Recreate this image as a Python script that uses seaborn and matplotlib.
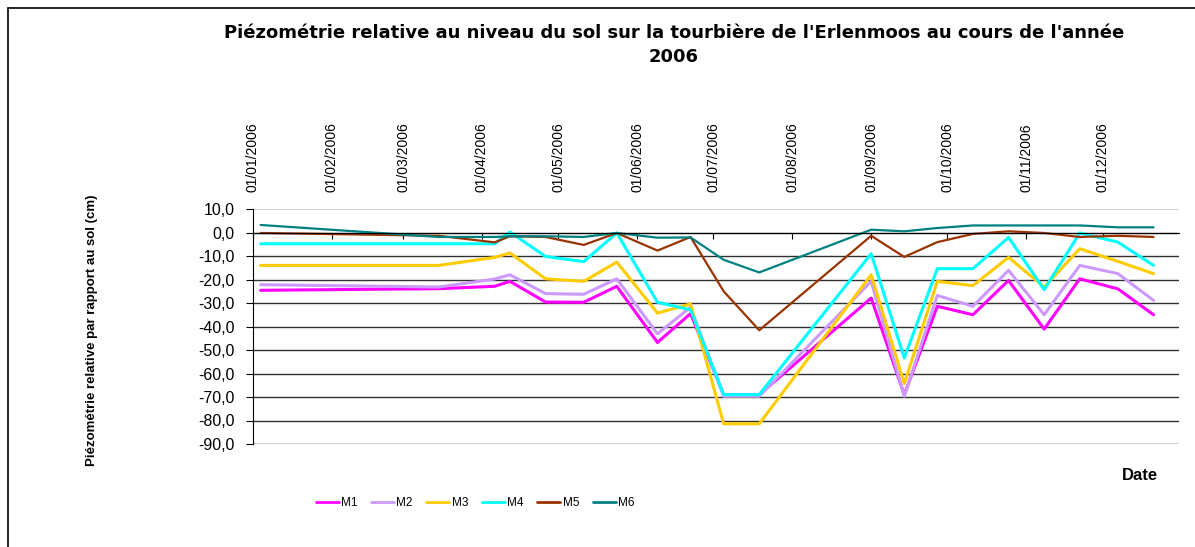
import pandas as pd
import matplotlib.pyplot as plt
import matplotlib.dates as mdates
from matplotlib.lines import Line2D
import seaborn as sns

# dates des relevés (2006)
dates = ['2006-01-04', '2006-03-15', '2006-04-06', '2006-04-12', '2006-04-26',
         '2006-05-11', '2006-05-24', '2006-06-09', '2006-06-22', '2006-07-05',
         '2006-07-19', '2006-09-01', '2006-09-14', '2006-09-27', '2006-10-11',
         '2006-10-25', '2006-11-08', '2006-11-22', '2006-12-07', '2006-12-21']

# niveaux relatifs au sol (cm) par piézomètre
m1 = [-24.6, -23.9, -22.9, -20.8, -29.6, -29.7, -22.9, -46.8, -34.5, -69.0,
      -69.0, -27.9, -69.0, -31.4, -35.0, -20.4, -41.1, -19.7, -24.0, -35.0]
m2 = [-22.2, -23.2, -19.8, -18.0, -26.0, -26.3, -19.7, -43.1, -31.8, -69.7,
      -69.7, -20.8, -69.7, -26.8, -31.4, -16.1, -35.0, -14.0, -17.5, -28.9]
m3 = [-14.0, -14.0, -10.6, -8.7, -19.7, -20.8, -12.6, -34.3, -30.4, -81.4,
      -81.4, -18.0, -64.3, -20.8, -22.6, -10.6, -23.2, -6.9, -12.3, -17.5]
m4 = [-4.8, -4.8, -4.8, 0.2, -10.2, -12.4, -0.2, -29.7, -32.9, -69.0,
      -69.0, -9.0, -53.4, -15.4, -15.4, -2.1, -24.3, -0.2, -4.1, -14.0]
m5 = [-0.2, -1.4, -4.2, -1.6, -1.9, -5.3, -0.2, -7.7, -1.9, -25.0,
      -41.6, -1.4, -10.4, -4.1, -0.6, 0.5, -0.2, -1.9, -1.4, -1.9]
m6 = [3.2, -1.9, -1.9, -1.6, -1.6, -1.9, -0.2, -2.2, -2.1, -11.6,
      -17.0, 1.2, 0.5, 1.9, 3.0, 3.0, 3.0, 3.0, 2.2, 2.2]

series = ['M1', 'M2', 'M3', 'M4', 'M5', 'M6']
couleurs = ['#FF00FF', '#CC99FF', '#FFCC00', '#00FFFF', '#993300', '#008080']
epaisseurs = [2.2, 2.2, 2.2, 2.2, 1.6, 1.6]

y_ticks = [10, 0, -10, -20, -30, -40, -50, -60, -70, -80, -90]

df = pd.DataFrame({'date': pd.to_datetime(dates),
                   'M1': m1, 'M2': m2, 'M3': m3, 'M4': m4, 'M5': m5, 'M6': m6})

sns.set_style('white')
plt.rcParams['font.family'] = ['Liberation Sans', 'DejaVu Sans']
plt.rcParams['text.color'] = 'black'
plt.rcParams['xtick.color'] = 'black'
plt.rcParams['ytick.color'] = 'black'

fig = plt.figure(figsize=(11.95, 5.47), dpi=100)
ax = fig.add_axes([253 / 1195, 103 / 547, 926 / 1195, 235 / 547])

# lignes de grille horizontales
for v in y_ticks:
    if v in (10, -90):
        ax.axhline(v, color='#c8c8c8', lw=1.2, zorder=0)
    else:
        ax.axhline(v, color='#303030', lw=1.0, zorder=0)

for s, c, w in zip(series, couleurs, epaisseurs):
    sns.lineplot(data=df, x='date', y=s, color=c, lw=w, label=s, ax=ax)

ax.set_xlim(pd.Timestamp('2006-01-01'), pd.Timestamp('2006-12-31'))
ax.set_ylim(-90, 10)
ax.set_yticks(y_ticks)
ax.set_yticklabels([f'{v:.1f}'.replace('.', ',') for v in y_ticks], fontsize=11.5)
ax.set_xlabel('')
ax.set_ylabel('')

# axe des dates sur la ligne zéro, étiquettes en haut
ax.spines['bottom'].set_position(('data', 0))
ax.spines['bottom'].set_color('black')
ax.spines['top'].set_visible(False)
ax.spines['right'].set_visible(False)
ax.spines['left'].set_color('black')
ax.xaxis.set_major_locator(mdates.MonthLocator())
ax.xaxis.set_major_formatter(mdates.DateFormatter('%d/%m/%Y'))
ax.tick_params(axis='x', bottom=True, top=False, labelbottom=False, labeltop=True,
               direction='out', length=4, color='black', labelsize=10, pad=8,
               labelrotation=90)
ax.tick_params(axis='y', left=True, direction='out', length=5, color='black', pad=8)

fig.suptitle("Piézométrie relative au niveau du sol sur la tourbière de l'Erlenmoos au cours de l'année\n2006",
             x=674 / 1195, y=1 - 45 / 547, va='center', fontsize=13, fontweight='bold',
             family='DejaVu Sans', linespacing=1.4, color='black')
fig.text(92 / 1195, 1 - 330 / 547, 'Piézométrie relative par rapport au sol (cm)',
         rotation=90, ha='center', va='center', fontsize=9.5, fontweight='bold')
fig.text(1158 / 1195, 1 - 475 / 547, 'Date', ha='right', va='center',
         fontsize=12, fontweight='bold')

ax.legend(loc='center', bbox_to_anchor=(475 / 1195, 1 - 503 / 547),
          bbox_transform=fig.transFigure, ncol=6, frameon=False, fontsize=8.5,
          handlelength=1.95, handletextpad=0.2, columnspacing=1.15)
for h in ax.get_legend().get_lines():
    h.set_linewidth(2.0)

# cadre de la zone du graphique
fig.add_artist(Line2D([7.5 / 1195, 1], [1 - 7.5 / 547, 1 - 7.5 / 547], color='black', lw=1.2))
fig.add_artist(Line2D([7.5 / 1195, 7.5 / 1195], [0, 1 - 7.5 / 547], color='black', lw=1.2))

fig.savefig('out.png', dpi=100)
